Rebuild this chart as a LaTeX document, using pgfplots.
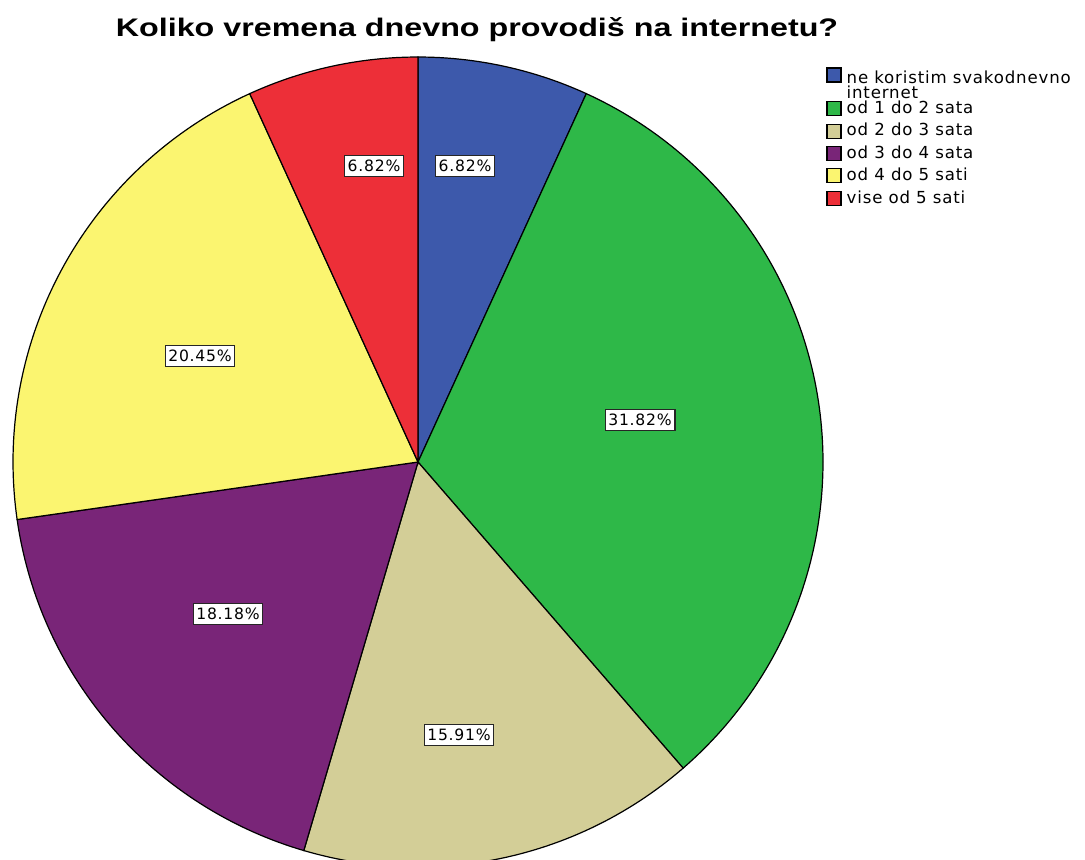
\documentclass[border=0pt]{standalone}
\usepackage{pgfplots}
\pgfplotsset{compat=1.18}
\usepackage{fontspec}
\setmainfont{Liberation Sans}
\newfontfamily\lab[LetterSpace=5]{DejaVu Sans}
\definecolor{cBlue}{RGB}{61,89,171}
\definecolor{cGreen}{RGB}{46,184,72}
\definecolor{cTan}{RGB}{211,206,151}
\definecolor{cPurple}{RGB}{121,37,120}
\definecolor{cYellow}{RGB}{251,245,112}
\definecolor{cRed}{RGB}{237,47,56}
% shares (percent): 6.82, 31.82, 15.91, 18.18, 20.45, 6.82
% slice angles = 90 - 3.6*cumulative share (clockwise from top)
\begin{document}
\begin{tikzpicture}
\begin{axis}[
  scale only axis, width=542.5pt, height=429.5pt,
  xmin=0, xmax=1085, ymin=0, ymax=859,
  axis lines=none, clip=true,
  legend style={at={(axis cs:826,792)}, anchor=north west, draw=none, fill=none,
    font=\lab\fontsize{8.3pt}{10pt}\selectfont, inner sep=0pt, row sep=1.4pt,
    nodes={inner sep=1pt, inner xsep=2.6pt}},
  legend cell align=left,
  legend image code/.code={\draw[#1,line width=0.55pt] (0pt,-3.5pt) rectangle (7pt,3.5pt);},
]
\path (rel axis cs:0,0) rectangle (rel axis cs:1,1);
\addplot[fill=cBlue, draw=black, line width=0.6pt, variable=\t, domain=65.448:90, samples=40,
  legend image code/.code={\draw[fill=cBlue,draw=black,line width=0.55pt] (0pt,0pt) rectangle (7pt,7pt);}]
  ({418+405*cos(\t)},{397+405*sin(\t)}) -- (axis cs:418,397) -- cycle;
\addlegendentry{\begin{tabular}{@{}l@{}}ne koristim svakodnevno\\[-2.8pt]internet\end{tabular}}
\addplot[fill=cGreen, draw=black, line width=0.6pt, variable=\t, domain=-49.104:65.448, samples=120]
  ({418+405*cos(\t)},{397+405*sin(\t)}) -- (axis cs:418,397) -- cycle;
\addlegendentry{od 1 do 2 sata}
\addplot[fill=cTan, draw=black, line width=0.6pt, variable=\t, domain=-106.38:-49.104, samples=60]
  ({418+405*cos(\t)},{397+405*sin(\t)}) -- (axis cs:418,397) -- cycle;
\addlegendentry{od 2 do 3 sata}
\addplot[fill=cPurple, draw=black, line width=0.6pt, variable=\t, domain=-171.828:-106.38, samples=70]
  ({418+405*cos(\t)},{397+405*sin(\t)}) -- (axis cs:418,397) -- cycle;
\addlegendentry{od 3 do 4 sata}
\addplot[fill=cYellow, draw=black, line width=0.6pt, variable=\t, domain=-245.448:-171.828, samples=80]
  ({418+405*cos(\t)},{397+405*sin(\t)}) -- (axis cs:418,397) -- cycle;
\addlegendentry{od 4 do 5 sati}
\addplot[fill=cRed, draw=black, line width=0.6pt, variable=\t, domain=-270:-245.448, samples=40]
  ({418+405*cos(\t)},{397+405*sin(\t)}) -- (axis cs:418,397) -- cycle;
\addlegendentry{vise od 5 sati}
\tikzset{lbl/.style={draw=black!85, fill=white, line width=0.6pt, inner xsep=1.6pt, inner ysep=2.2pt,
  font=\lab\fontsize{7.8pt}{8pt}\selectfont}}
\node[lbl] at (axis cs:465,693) {6.82\%};
\node[lbl] at (axis cs:640,439) {31.82\%};
\node[lbl] at (axis cs:459,124) {15.91\%};
\node[lbl] at (axis cs:228,245) {18.18\%};
\node[lbl] at (axis cs:200,503) {20.45\%};
\node[lbl] at (axis cs:374,693) {6.82\%};
\node[anchor=base, xscale=1.27, font=\bfseries\fontsize{12.7pt}{15pt}\selectfont] at (axis cs:477,822) {Koliko vremena dnevno provodiš na internetu?};
\end{axis}
\end{tikzpicture}
\end{document}
